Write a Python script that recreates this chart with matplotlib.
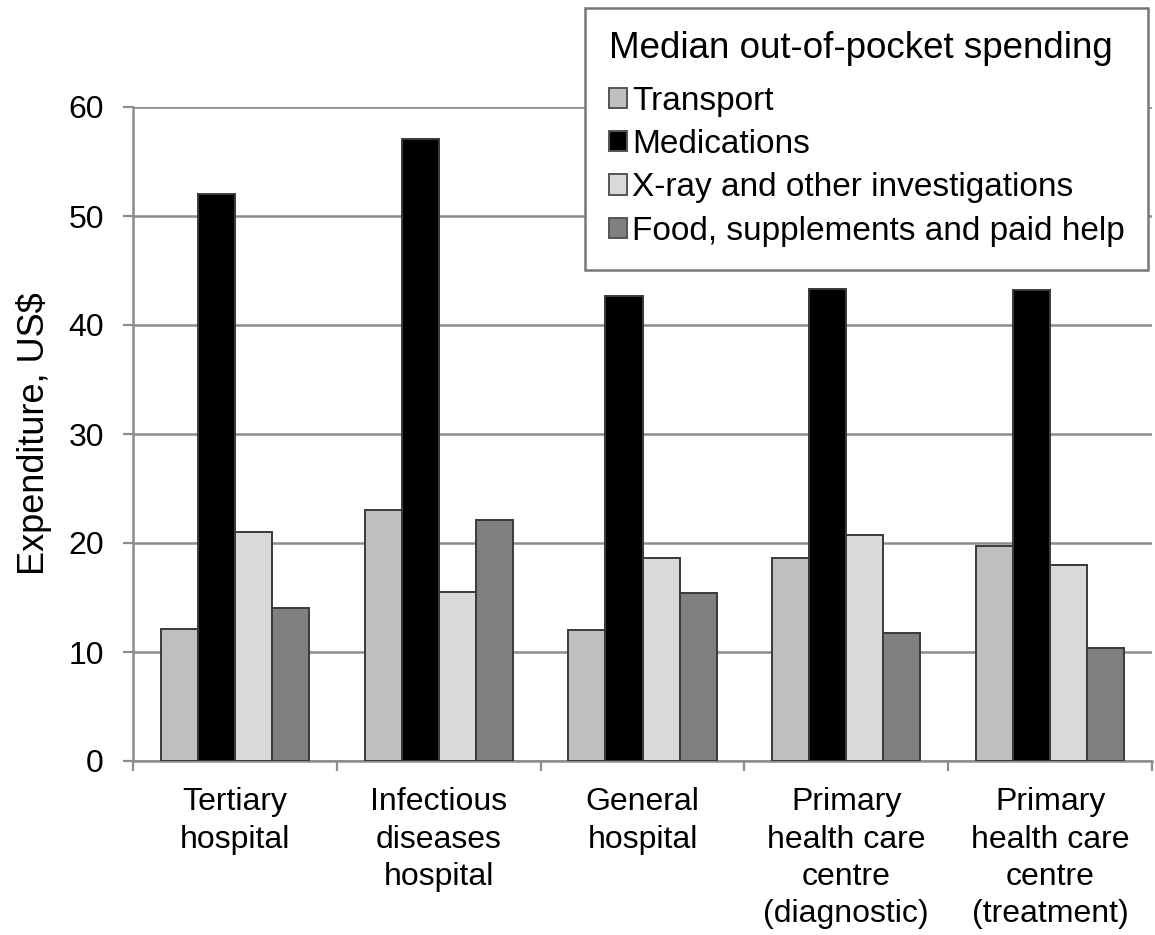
import numpy as np
import matplotlib.pyplot as plt
from matplotlib.ticker import FixedLocator

plt.rcParams['font.family'] = ['Liberation Sans', 'DejaVu Sans']

# median spend per facility type, US$
facilities = ['Tertiary\nhospital', 'Infectious\ndiseases\nhospital', 'General\nhospital',
              'Primary\nhealth care\ncentre\n(diagnostic)', 'Primary\nhealth care\ncentre\n(treatment)']
transport = [12.1, 23.0, 12.0, 18.6, 19.7]
medications = [52.0, 57.1, 42.7, 43.3, 43.2]
xray = [21.0, 15.5, 18.6, 20.7, 17.95]
food = [14.0, 22.1, 15.4, 11.75, 10.4]

series = [
    ('Transport', transport, '#bfbfbf'),
    ('Medications', medications, '#000000'),
    ('X-ray and other investigations', xray, '#d9d9d9'),
    ('Food, supplements and paid help', food, '#808080'),
]

W, H = 1155, 935
fig = plt.figure(figsize=(W / 100, H / 100), dpi=100)
ax = fig.add_axes([133 / W, (H - 761) / H, (1152 - 133) / W, (761 - 107) / H])

x = np.arange(len(facilities))
bw = 1 / 5.5
for i, (name, vals, col) in enumerate(series):
    ax.bar(x + (i - 1.5) * bw, vals, bw, color=col, edgecolor='#3a3a3a',
           linewidth=1.4, label=name, zorder=3)

ax.set_xlim(-0.5, len(facilities) - 0.5)
ax.set_ylim(0, 60)
ax.set_yticks(np.arange(0, 61, 10))
ax.yaxis.grid(True, color='#8c8c8c', linewidth=1.8, zorder=0)
ax.set_axisbelow(True)

for s in ['top', 'right']:
    ax.spines[s].set_visible(False)
for s in ['left', 'bottom']:
    ax.spines[s].set_color('#8c8c8c')
    ax.spines[s].set_linewidth(1.8)

ax.set_xticks(x)
ax.set_xticklabels(facilities, fontsize=23, linespacing=1.32, va='top')
ax.tick_params(axis='x', which='major', length=0, pad=19)
# separator ticks between the facility groups
ax.xaxis.set_minor_locator(FixedLocator(np.arange(-0.5, len(facilities), 1.0)))
ax.tick_params(axis='x', which='minor', length=7, width=1.6, color='#8c8c8c')
ax.tick_params(axis='y', length=7, width=1.6, color='#8c8c8c', labelsize=23, pad=14)

ax.set_ylabel('Expenditure, US$', fontsize=26, labelpad=12)

leg = fig.legend(loc='upper right', bbox_to_anchor=(1148 / W, 1 - 8 / H),
                 title='Median out-of-pocket spending', fontsize=24,
                 title_fontsize=26.5, fancybox=False, framealpha=1,
                 edgecolor='#777777', handlelength=0.55, handleheight=0.55,
                 handletextpad=0.15, labelspacing=0.37, borderpad=0.7,
                 borderaxespad=0, alignment='left')
# a little more room between the title and the entries
leg._legend_box.sep += 5
leg.get_frame().set_linewidth(1.8)
for h in leg.legend_handles:
    h.set_edgecolor('#555555')

fig.savefig('out.png', dpi=100)
